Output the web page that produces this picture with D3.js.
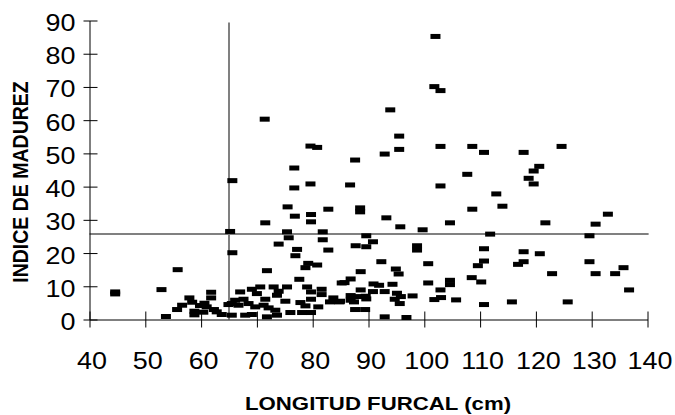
<!DOCTYPE html>
<html>
<head>
<meta charset="utf-8">
<script src="https://cdn.jsdelivr.net/npm/d3@7"></script>
<style>
  body { margin: 0; background: #fff; }
  text { font-family: "Liberation Sans", Arial, sans-serif; fill: #000; }
</style>
</head>
<body>
<div id="chart"></div>
<script>
// longitud furcal (cm) de cada ejemplar
var longitud = [
  44.6, 44.6, 52.9, 53.7, 55.8, 55.7, 56.6, 57.9, 58.4, 58.8,
  58.8, 59.8, 60.6, 60.4, 61.8, 61.8, 61.0, 62.3, 62.8, 63.7,
  64.9, 65.2, 65.6, 65.6, 67.0, 69.1, 70.6, 73.0, 75.4, 73.9,
  73.6, 79.0, 81.6, 79.7, 81.6, 70.0, 65.5, 66.1, 67.6, 66.7,
  68.5, 71.5, 71.2, 69.7, 72.1, 65.5, 67.9, 69.1, 71.8, 73.3,
  73.6, 75.1, 76.0, 77.8, 78.7, 79.7, 81.0, 78.1, 79.7, 83.7,
  83.1, 84.9, 71.8, 77.6, 85.2, 79.2, 78.7, 80.8, 77.2, 76.9,
  82.8, 73.9, 75.7, 81.8, 75.4, 81.8, 71.5, 75.5, 76.8, 79.7,
  79.7, 82.8, 71.4, 79.6, 80.8, 76.7, 76.7, 79.6, 87.6, 86.7,
  88.5, 88.5, 92.9, 93.9, 95.5, 95.5, 93.2, 95.7, 99.7, 102.0,
  101.8, 102.9, 102.9, 108.6, 110.7, 117.8, 124.6, 107.7, 120.6, 119.6,
  118.7, 119.6, 102.9, 112.9, 114.0, 108.6, 104.6, 121.7, 130.7, 132.9,
  89.6, 90.8, 87.7, 89.6, 98.7, 98.7, 111.8, 129.6, 110.7, 117.8,
  120.7, 117.8, 116.8, 110.7, 109.6, 129.6, 92.3, 100.7, 135.7, 88.6,
  94.9, 95.4, 122.9, 130.7, 134.2, 108.5, 110.2, 104.6, 104.6, 100.7,
  86.8, 85.7, 90.9, 91.9, 94.3, 88.6, 90.8, 92.9, 95.1, 95.8,
  97.9, 102.9, 136.7, 86.8, 88.2, 89.5, 84.8, 86.8, 87.4, 89.6,
  94.7, 95.6, 101.8, 103.0, 105.7, 110.7, 115.7, 125.7, 87.6, 89.4,
  92.9, 96.8
];
// indice de madurez de cada ejemplar
var indice = [
  8.3, 7.7, 9.0, 0.9, 15.0, 3.0, 4.3, 6.5, 5.2, 2.5,
  1.4, 4.2, 4.9, 2.2, 8.2, 6.5, 3.8, 3.0, 2.3, 1.5,
  4.5, 26.5, 20.1, 41.8, 8.3, 9.1, 9.8, 9.8, 9.8, 8.5,
  7.3, 9.8, 9.1, 8.3, 7.5, 7.8, 4.8, 5.8, 6.1, 4.3,
  4.8, 6.1, 4.3, 3.8, 3.5, 1.3, 1.3, 1.5, 0.8, 2.8,
  1.3, 5.5, 2.1, 5.1, 4.1, 6.1, 3.8, 2.1, 2.1, 6.5,
  5.3, 5.5, 14.7, 12.1, 11.0, 16.9, 15.6, 16.4, 21.1, 19.2,
  20.9, 22.7, 24.6, 24.0, 26.4, 26.4, 29.1, 33.9, 31.1, 31.6,
  29.4, 33.2, 60.3, 52.2, 51.8, 45.6, 39.6, 40.8, 48.0, 40.5,
  33.6, 32.4, 49.8, 63.1, 55.2, 51.2, 30.6, 27.9, 27.0, 85.2,
  70.1, 68.9, 52.1, 52.1, 50.3, 50.3, 52.1, 43.7, 46.1, 44.7,
  42.5, 40.8, 40.2, 37.8, 34.1, 33.2, 29.1, 29.1, 28.7, 31.7,
  25.2, 23.4, 22.2, 21.9, 22.2, 20.9, 25.7, 25.2, 21.3, 20.4,
  19.8, 17.4, 16.6, 17.6, 16.2, 17.4, 17.4, 16.8, 15.6, 14.4,
  15.2, 13.7, 13.8, 13.8, 13.8, 12.6, 11.3, 11.8, 10.5, 11.0,
  12.2, 11.1, 10.7, 10.3, 10.6, 8.9, 8.4, 8.4, 7.9, 6.9,
  7.1, 8.9, 8.9, 7.2, 6.9, 7.0, 5.3, 5.8, 5.3, 6.2,
  6.1, 4.8, 6.0, 6.6, 5.9, 4.5, 5.3, 5.3, 3.0, 3.0,
  0.8, 0.6
];
var xTicks = [40, 50, 60, 70, 80, 90, 100, 110, 120, 130, 140];
var yTicks = [0, 10, 20, 30, 40, 50, 60, 70, 80, 90];

// lineas de corte
var corteLongitud = 65, corteLongitudTope = 89.4;
var corteIndice = 25.7, corteIndiceFin = 140.2;

var ejeX = "LONGITUD FURCAL (cm)";
var ejeY = "INDICE DE MADUREZ";

var width = 675, height = 415;
var sx = 1.17; // the original export is stretched sideways

var svg = d3.select("#chart").append("svg")
    .attr("width", width)
    .attr("height", height);

var x = d3.scaleLinear().domain([40, 140]).range([89.5, 647.5]);
var y = d3.scaleLinear().domain([0, 90]).range([319.5, 20.5]);

// cut lines
svg.append("line")
    .attr("x1", x(corteLongitud)).attr("x2", x(corteLongitud))
    .attr("y1", y(0)).attr("y2", y(corteLongitudTope))
    .style("stroke", "#808080").style("stroke-width", 2);
svg.append("line")
    .attr("x1", x(40)).attr("x2", x(corteIndiceFin))
    .attr("y1", y(corteIndice)).attr("y2", y(corteIndice))
    .style("stroke", "#808080").style("stroke-width", 2);

// axes
var gx = svg.append("g")
    .attr("transform", "translate(0," + y(0) + ")")
    .call(d3.axisBottom(x).tickValues(xTicks).tickSizeOuter(0).tickFormat(d3.format("d")));
var gy = svg.append("g")
    .attr("transform", "translate(" + x(40) + ",0)")
    .call(d3.axisLeft(y).tickValues(yTicks).tickSizeOuter(0).tickFormat(d3.format("d")));

[gx, gy].forEach(function (g) {
  g.attr("font-family", null).attr("font-size", null);
  g.select(".domain").style("stroke", "#000").style("stroke-width", 1);
  g.selectAll(".tick line").style("stroke", "#000").style("stroke-width", 1);
  g.selectAll(".tick text").style("font-size", "23px");
});
gx.selectAll(".tick line").attr("y1", -8).attr("y2", 8);
gx.selectAll(".tick text")
    .attr("y", null).attr("dy", null)
    .attr("transform", "translate(2,49) scale(" + sx + ",1)");
gy.selectAll(".tick line").attr("x1", -6).attr("x2", 8);
gy.selectAll(".tick text")
    .attr("x", null).attr("dy", null)
    .attr("transform", "translate(-14,10) scale(" + sx + ",1)");

// axis titles
svg.append("text")
    .attr("transform", "translate(378,410) scale(" + sx + ",1)")
    .attr("text-anchor", "middle")
    .style("font-size", "19px").style("font-weight", "bold")
    .text(ejeX);
svg.append("text")
    .attr("transform", "translate(28,182) scale(" + sx + ",1) rotate(-90)")
    .attr("text-anchor", "middle")
    .style("font-size", "19.5px").style("font-weight", "bold")
    .text(ejeY);

// points (dash markers)
var mw = 10, mh = 5;
svg.append("g").selectAll("rect")
    .data(d3.range(longitud.length))
    .enter().append("rect")
    .attr("x", function (i) { return x(longitud[i]) - mw / 2; })
    .attr("y", function (i) { return y(indice[i]) - mh / 2; })
    .attr("width", mw)
    .attr("height", mh)
    .style("fill", "#000");
</script>
</body>
</html>
